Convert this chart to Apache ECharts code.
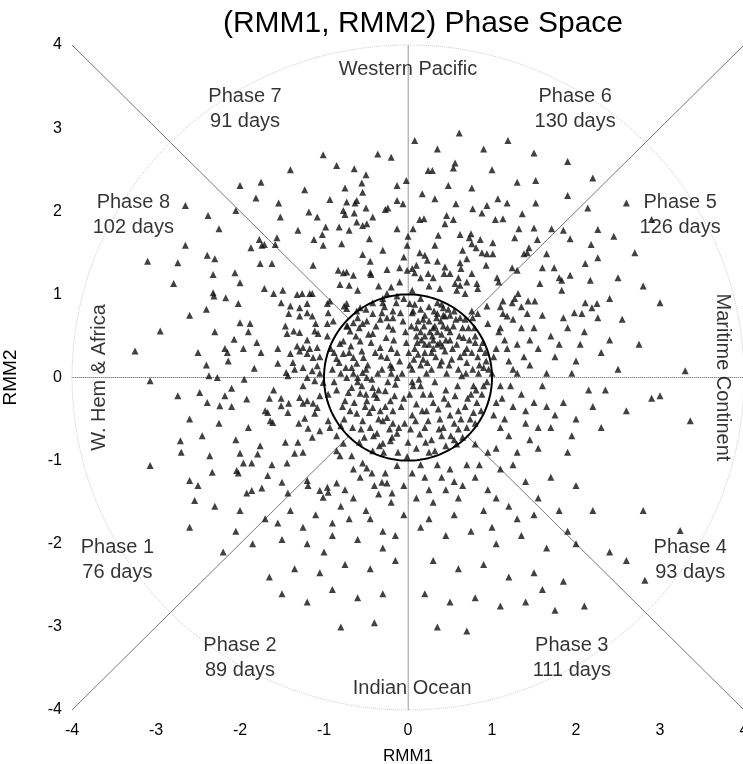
<!DOCTYPE html>
<html>
<head>
<meta charset="utf-8">
<title>(RMM1, RMM2) Phase Space</title>
<script src="https://cdn.jsdelivr.net/npm/echarts@6/dist/echarts.min.js"></script>
<style>
html, body { margin: 0; padding: 0; background: #fff; }
#chart { width: 743px; height: 764px; }
</style>
</head>
<body>
<div id="chart"></div>
<script>
// daily (RMM1, RMM2) values, grouped by area of the plot
var upperLeft = [
    [-1.01, 2.68], [-0.36, 2.69], [-0.64, 2.51], [-0.50, 2.44], [-2.00, 2.31], [-1.23, 2.26], [-0.75, 2.28],
    [-0.55, 2.34], [-0.54, 2.23], [-0.13, 2.31], [-1.81, 2.16], [-1.54, 2.10], [-0.93, 2.14], [-0.73, 2.11],
    [-0.63, 2.10], [-0.61, 2.13], [-0.50, 2.04], [-0.27, 2.02], [-0.24, 2.04], [-0.13, 2.13], [-2.05, 2.01],
    [-1.52, 1.93], [-1.18, 1.99], [-1.08, 1.93], [-0.77, 2.01], [-0.75, 1.96], [-0.64, 1.98], [-0.61, 1.87],
    [-0.42, 1.93], [-0.49, 1.85], [-0.54, 1.83], [-2.25, 1.79], [-1.31, 1.77], [-0.98, 1.81], [-0.82, 1.81],
    [-0.70, 1.77], [-0.13, 1.79], [-1.02, 1.72], [-1.56, 1.68], [-1.77, 1.66], [-1.74, 1.59], [-1.71, 1.60],
    [-1.12, 1.66], [-1.58, 1.60], [-1.01, 1.59], [-0.79, 1.61], [-0.46, 1.67], [-1.87, 1.56], [-0.30, 1.53],
    [-0.54, 1.48], [-2.39, 1.47], [-2.30, 1.43], [-1.76, 1.37], [-1.62, 1.37], [-1.13, 1.35], [-0.83, 1.29],
    [-0.77, 1.26], [-0.73, 1.27], [-0.65, 1.23], [-0.45, 1.26], [-0.44, 1.24], [-2.32, 1.24], [-2.06, 1.26],
    [-2.00, 1.14], [-0.81, 1.12], [-0.70, 1.11], [-0.20, 1.09], [-2.32, 1.02], [-2.31, 0.98], [-2.17, 0.96],
    [-1.71, 1.07], [-1.60, 1.01], [-1.49, 1.05], [-1.32, 1.00], [-1.26, 1.01], [-1.17, 1.01], [-0.96, 0.89],
    [-0.93, 0.92], [-0.76, 0.86], [-0.73, 0.83], [-0.57, 0.84], [-0.42, 0.90], [-0.30, 0.95], [-0.25, 1.01],
    [-0.13, 0.98], [-2.02, 0.89], [-1.51, 0.90], [-1.40, 0.86], [-1.29, 0.84], [-1.20, 0.89], [-1.14, 1.01],
    [-2.40, 0.82], [-1.42, 0.77], [-1.29, 0.74], [-1.20, 0.78], [-1.14, 0.74], [-0.31, 0.78], [-0.18, 0.72],
    [-2.00, 0.66], [-1.88, 0.65], [-1.46, 0.62], [-1.44, 0.53], [-1.36, 0.56], [-1.29, 0.54], [-1.11, 0.56],
    [-1.07, 0.53], [-0.96, 0.65], [-0.96, 0.50], [-0.89, 0.68], [-0.73, 0.62], [-0.65, 0.66], [-0.54, 0.65],
    [-2.07, 0.46], [-1.80, 0.42], [-2.18, 0.35], [-2.15, 0.30], [-1.96, 0.35], [-2.14, 0.20], [-1.32, 0.38],
    [-1.29, 0.32], [-1.25, 0.36], [-1.20, 0.29], [-1.17, 0.35], [-1.13, 0.24], [-1.08, 0.36], [-1.40, 0.29],
    [-1.37, 0.18], [-1.55, 0.17], [-1.45, 0.06], [-1.43, 0.02], [-1.83, 0.11], [-2.37, 0.02], [-2.27, 0.00],
    [-1.25, 0.12], [-1.14, 0.08], [-1.08, 0.14], [-1.05, 0.05],
    [-2.65, 2.07], [-2.38, 1.95], [-2.79, 1.13], [-2.74, 1.38], [-2.65, 1.59], [-2.95, 0.56], [-3.25, 0.32],
    [-3.10, 1.40], [-2.60, 0.75], [-1.75, 0.30], [-1.90, 0.55], [-2.30, 0.55], [-2.50, 0.30], [-2.40, 0.15],
    [-0.85, 2.55], [-0.20, 2.65], [-1.40, 2.50], [-1.75, 2.35],
    [-0.35, 1.10], [-0.25, 1.30], [-0.60, 1.05], [-0.45, 1.40], [-1.05, 0.25], [-1.20, 0.45], [-1.35, 0.10],
    [-1.10, 0.65], [-0.95, 0.78], [-1.55, 0.35]
];
var upperRight = [
    [0.08, 2.85], [0.61, 2.94], [1.19, 2.85], [0.56, 2.58], [0.54, 2.52], [0.24, 2.49], [0.29, 2.49],
    [-0.02, 2.37], [0.48, 2.31], [0.76, 2.28], [1.52, 2.37], [0.17, 2.21], [0.32, 2.15], [0.57, 2.09],
    [1.07, 2.15], [1.18, 2.10], [1.52, 2.10], [1.90, 2.19], [-0.06, 2.09], [0.77, 2.03], [0.88, 1.98],
    [0.94, 2.07], [2.14, 2.04], [0.46, 1.95], [0.54, 1.90], [0.44, 1.85], [0.14, 1.90], [0.19, 1.91],
    [1.04, 1.90], [1.13, 1.91], [1.36, 1.97], [0.06, 1.79], [0.75, 1.73], [0.73, 1.68], [1.32, 1.79],
    [1.50, 1.80], [1.71, 1.79], [1.85, 1.77], [2.26, 1.78], [0.36, 1.71], [0.62, 1.72], [0.86, 1.66],
    [0.76, 1.61], [0.81, 1.56], [1.27, 1.68], [1.54, 1.66], [1.93, 1.67], [0.32, 1.59], [1.01, 1.62],
    [1.44, 1.56], [1.42, 1.50], [2.18, 1.60], [0.65, 1.53], [0.70, 1.43], [0.88, 1.50], [0.94, 1.49],
    [1.01, 1.49], [1.38, 1.49], [1.65, 1.49], [-0.01, 1.59], [0.14, 1.50], [0.20, 1.47], [0.23, 1.41],
    [0.44, 1.33], [0.43, 1.25], [0.62, 1.38], [0.63, 1.31], [0.60, 1.20], [0.93, 1.35], [1.24, 1.32],
    [1.30, 1.29], [1.60, 1.32], [1.74, 1.32], [2.11, 1.37], [2.26, 1.44], [-0.10, 1.32], [-0.01, 1.29],
    [0.05, 1.31], [0.08, 1.26], [0.24, 1.25], [0.30, 1.20], [1.80, 1.20], [1.83, 1.17], [1.93, 1.23],
    [2.17, 1.17], [1.57, 1.13], [1.06, 1.20], [1.08, 1.15], [0.76, 1.25], [0.38, 1.07], [0.56, 1.13],
    [0.62, 1.11], [0.58, 1.05], [0.68, 1.01], [0.82, 1.13], [0.83, 1.07], [0.94, 0.86], [1.13, 0.92],
    [1.24, 0.90], [1.27, 0.95], [1.31, 1.01], [1.43, 0.92], [1.51, 0.92], [1.83, 1.05], [2.11, 0.90],
    [2.25, 0.89], [1.98, 0.78], [2.07, 0.77], [2.19, 0.84], [1.42, 0.77], [1.13, 0.77], [1.18, 0.74],
    [0.76, 0.80], [0.83, 0.77], [0.77, 0.72], [0.42, 0.84], [0.35, 0.77], [0.44, 0.74], [0.02, 0.89],
    [0.06, 0.80], [1.85, 0.72], [2.26, 0.72],
    [2.45, 1.70], [2.70, 1.50], [2.50, 1.20], [2.80, 1.10], [2.40, 0.95], [3.00, 0.90], [2.60, 2.10],
    [2.90, 1.90], [1.90, 2.60], [2.20, 2.40], [1.50, 2.70], [0.35, 2.75], [1.00, 2.50], [1.30, 2.35],
    [0.90, 2.75],
    [-0.10, 1.15], [0.05, 1.05], [0.15, 1.20], [0.25, 1.10], [-0.05, 1.45], [0.10, 1.35], [0.35, 1.40],
    [0.00, 1.70], [0.50, 1.25], [0.70, 1.15], [1.02, 0.25], [1.08, 0.55], [1.18, 0.35], [1.25, 0.70],
    [1.38, 0.25], [1.45, 0.45], [1.10, 0.85], [0.95, 0.65]
];
var centre = [
    [-0.73, 0.00], [-0.67, 0.12], [-0.61, 0.17], [-0.54, 0.06], [-0.49, 0.00], [-0.42, -0.12], [-0.37, -0.24],
    [-0.27, -0.16], [-0.21, -0.28], [-0.18, -0.40], [-0.49, -0.28], [-0.57, -0.19], [-0.67, -0.12], [-0.75, -0.28],
    [-0.69, -0.40], [-0.61, -0.43], [-0.54, -0.52], [-0.45, -0.60], [-0.37, -0.67], [-0.30, -0.79], [-0.21, -0.76],
    [-0.13, -0.67], [-0.18, -0.55], [-0.25, -0.48], [-0.33, -0.40], [-0.42, -0.36], [-0.77, 0.29], [-0.65, 0.24],
    [-0.57, 0.44], [-0.42, 0.53], [-0.33, 0.36], [-0.25, 0.24], [-0.19, 0.12], [-0.13, 0.00], [-0.77, 0.44],
    [-0.69, 0.56], [-0.49, 0.68], [-0.42, 0.77], [-0.25, 0.72], [-0.18, 0.80], [-0.73, 0.89], [-0.61, 0.80],
    [-0.81, 0.41], [-0.85, 0.23],
    [0.10, 0.50], [0.20, 0.30], [0.30, 0.60], [0.40, 0.20], [0.50, 0.45], [0.60, 0.10], [0.70, 0.35],
    [0.15, -0.10], [0.30, -0.30], [0.45, -0.15], [0.60, -0.40], [0.75, -0.20], [0.20, -0.60], [0.40, -0.70],
    [0.55, -0.55], [0.10, -0.85], [0.85, 0.15], [0.90, -0.10], [0.05, 0.10], [0.25, 0.85], [0.50, 0.75],
    [0.65, 0.60], [0.80, 0.50], [0.35, 0.40], [0.12, 0.68], [0.22, -0.40], [0.38, -0.50], [0.70, -0.60],
    [0.05, -0.45], [0.02, -0.20], [0.28, 0.10], [0.48, -0.32], [0.62, 0.25], [0.18, 0.22], [0.42, 0.62],
    [0.78, -0.42], [0.32, -0.88], [0.55, -0.75], [0.92, 0.30], [0.08, 0.35],
    [-0.90, 0.10], [-0.85, -0.15], [-0.80, 0.05], [-0.78, -0.35], [-0.70, 0.30], [-0.66, -0.60], [-0.62, 0.50],
    [-0.60, -0.05], [-0.55, 0.32], [-0.52, -0.72], [-0.48, 0.15], [-0.46, -0.42], [-0.44, 0.42], [-0.40, -0.20],
    [-0.38, 0.62], [-0.36, 0.05], [-0.34, -0.82], [-0.32, 0.26], [-0.30, -0.52], [-0.28, 0.85], [-0.26, 0.48],
    [-0.24, -0.05], [-0.22, -0.62], [-0.20, 0.35], [-0.18, 0.58], [-0.16, -0.22], [-0.14, 0.90], [-0.12, -0.90],
    [-0.10, 0.20], [-0.08, -0.35], [-0.06, 0.68], [-0.04, -0.55], [-0.02, 0.42], [0.00, -0.78], [0.02, 0.15],
    [0.04, 0.62], [0.06, -0.10], [0.08, 0.88], [0.10, -0.32], [0.12, 0.28], [0.14, -0.68], [0.16, 0.45],
    [0.18, -0.20], [0.20, 0.75], [0.22, 0.05], [0.24, -0.52], [0.26, 0.55], [0.28, -0.75], [0.30, 0.35],
    [0.32, -0.05], [0.34, 0.72], [0.36, -0.38], [0.38, 0.15], [0.40, 0.52], [0.42, -0.60], [0.44, 0.32],
    [0.46, 0.05], [0.48, 0.82], [0.50, -0.45], [0.52, 0.22], [0.54, 0.62], [0.56, -0.22], [0.58, 0.40],
    [0.60, -0.62], [0.62, 0.72], [0.64, 0.02], [0.66, 0.48], [0.68, -0.35], [0.70, 0.18], [0.72, 0.60],
    [0.74, -0.50], [0.76, 0.30], [0.78, -0.10], [0.80, 0.42], [0.82, -0.30], [0.84, 0.05], [0.86, 0.35],
    [0.88, -0.20], [0.90, 0.12], [0.94, -0.05], [-0.95, -0.20], [-0.88, 0.30], [-0.72, 0.62], [-0.58, -0.78],
    [-0.42, -0.88], [0.15, 0.95], [0.35, 0.90], [0.55, 0.80], [0.68, 0.70], [-0.92, 0.35], [-0.60, 0.72],
    [0.25, -0.90], [0.45, -0.82], [0.65, -0.72], [0.80, -0.55], [0.30, 0.45], [0.25, 0.40], [0.35, 0.55],
    [0.20, 0.50], [0.10, 0.60], [0.45, 0.45], [-0.60, 0.00], [-0.55, -0.10], [-0.65, 0.05], [-0.50, 0.10],
    [0.15, 0.15], [0.05, -0.05],
    [-0.88, -0.05], [-0.82, 0.18], [-0.76, -0.50], [-0.74, 0.12], [-0.71, -0.18], [-0.68, 0.38], [-0.64, -0.30],
    [-0.58, 0.60], [-0.56, -0.62], [-0.53, 0.24], [-0.51, -0.35], [-0.47, 0.52], [-0.43, -0.02], [-0.41, -0.70],
    [-0.39, 0.30], [-0.35, -0.50], [-0.33, 0.70], [-0.31, 0.10], [-0.29, -0.90], [-0.27, -0.35], [-0.23, 0.62],
    [-0.21, 0.15], [-0.19, -0.72], [-0.17, 0.45], [-0.15, -0.08], [-0.13, 0.30], [-0.11, -0.60], [-0.09, 0.78],
    [-0.07, 0.05], [-0.05, -0.25], [-0.03, 0.55], [-0.01, -0.95], [0.01, 0.30], [0.03, -0.62], [0.05, 0.78],
    [0.07, 0.22], [0.09, -0.52], [0.11, 0.42], [0.13, -0.02], [0.15, 0.82], [0.17, -0.40], [0.19, 0.62],
    [0.21, -0.78], [0.23, 0.18], [0.25, 0.68], [0.27, -0.20], [0.29, 0.50], [0.31, 0.80], [0.33, 0.25],
    [0.37, -0.62], [0.39, 0.68], [0.41, 0.38], [0.43, -0.25], [0.47, 0.60], [0.49, 0.15], [0.51, -0.70],
    [0.53, 0.35], [0.57, 0.70], [0.59, -0.10], [0.61, 0.50], [0.63, -0.50], [0.67, 0.30], [0.69, 0.05],
    [0.71, -0.25], [0.73, 0.45], [0.77, 0.10], [0.79, 0.60], [0.81, -0.15], [0.83, 0.25], [0.87, -0.40],
    [0.89, 0.42], [0.93, 0.20], [0.96, 0.10], [-0.05, 0.95], [0.40, 0.88], [-0.50, 0.82], [-0.80, -0.58],
    [-0.30, 0.90], [0.58, -0.80], [0.20, 0.40], [0.28, 0.30], [0.38, 0.42], [0.32, 0.62], [0.15, 0.55],
    [0.50, 0.55], [0.18, 0.70], [0.42, 0.75], [-0.20, 0.05], [-0.35, -0.15], [-0.50, -0.20]
];
var lowerLeft = [
    [-1.01, -0.06], [-2.48, -0.18], [-2.10, -0.13], [-2.18, -0.22], [-2.39, -0.30], [-2.24, -0.34], [-2.10, -0.35],
    [-1.92, -0.26], [-1.51, -0.25], [-1.51, -0.34], [-1.42, -0.31], [-1.29, -0.24], [-1.25, -0.31], [-1.20, -0.28],
    [-1.13, -0.31], [-1.08, -0.36], [-1.11, -0.43], [-1.43, -0.42], [-1.70, -0.40], [-1.67, -0.42], [-1.64, -0.52],
    [-1.61, -0.54], [-2.25, -0.55], [-1.23, -0.49], [-1.19, -0.61], [-0.95, -0.52], [-0.93, -0.60], [-1.05, -0.64],
    [-1.14, -0.72], [-0.85, -0.70], [-1.46, -0.78], [-1.31, -0.78], [-1.25, -0.90], [-1.76, -0.82], [-1.79, -0.92],
    [-2.00, -0.91], [-2.36, -0.94], [-1.96, -1.03], [-1.86, -1.03], [-1.62, -1.05], [-1.44, -1.03], [-1.35, -0.91],
    [-2.33, -1.14], [-2.04, -1.12], [-2.02, -1.15], [-1.67, -1.18], [-1.50, -1.26], [-1.20, -1.24], [-1.19, -1.30],
    [-1.05, -1.36], [-0.96, -1.32], [-0.95, -1.38], [-0.85, -1.27], [-1.92, -1.39], [-1.86, -1.36], [-1.74, -1.33],
    [-1.43, -1.39], [-1.01, -1.44], [-0.85, -0.88], [-0.81, -0.94], [-0.77, -0.79], [-0.67, -0.94], [-0.54, -1.03],
    [-0.49, -1.09], [-0.43, -1.15], [-0.57, -1.20], [-0.27, -1.15], [-0.13, -1.06], [-0.31, -1.26], [-0.25, -1.27],
    [-0.19, -1.39], [-1.95, -0.02], [-1.20, 0.00], [-1.11, -0.04],
    [-0.20, -1.50], [-0.50, -1.60], [-0.80, -1.55], [-1.10, -1.65], [-1.40, -1.60], [-1.70, -1.70], [-2.00, -1.60],
    [-2.30, -1.55], [-0.30, -1.85], [-0.60, -1.95], [-0.90, -1.90], [-1.20, -2.00], [-1.50, -1.95], [-1.85, -2.00],
    [-2.20, -2.10], [-0.15, -2.20], [-0.45, -2.30], [-0.75, -2.25], [-1.05, -2.35], [-1.35, -2.30], [-1.65, -2.40],
    [-0.30, -2.60], [-0.60, -2.65], [-0.90, -2.55], [-1.20, -2.70], [-1.50, -2.60], [-0.40, -2.95], [-0.80, -3.00],
    [-2.50, -1.30], [-2.70, -0.90], [-2.60, -1.80], [-3.07, -0.04], [-2.74, -0.22], [-2.71, -0.76], [-3.07, -1.06],
    [-2.60, -1.24], [-2.54, -1.48], [-1.60, -0.15], [-2.60, -0.50], [-2.45, -0.70], [-1.90, -0.60], [-2.05, -0.75],
    [-0.05, -1.65], [-0.35, -1.40], [-0.65, -1.45], [-0.90, -1.75], [-1.25, -1.80], [-0.45, -1.70], [-0.15, -1.90],
    [-0.70, -1.70], [-1.55, -1.75], [-2.05, -1.85], [-1.00, -2.10], [-0.30, -2.05],
    [-0.05, -1.30], [-0.40, -1.30], [-0.65, -1.10], [-0.75, -1.35], [-1.25, -0.10], [-1.05, -0.22], [-1.30, -0.55],
    [-1.65, -0.25]
];
var lowerRight = [
    [1.10, 0.60], [1.30, 0.40], [1.50, 0.60], [1.70, 0.50], [1.90, 0.60], [2.10, 0.55], [1.20, 0.20],
    [1.45, 0.15], [1.75, 0.25], [2.00, 0.20], [2.30, 0.30], [1.10, -0.10], [1.35, -0.20], [1.60, -0.10],
    [1.85, -0.30], [2.15, -0.15], [2.50, 0.10], [1.15, -0.50], [1.40, -0.55], [1.70, -0.60], [2.00, -0.50],
    [2.30, -0.60], [1.05, -0.85], [1.30, -0.90], [1.55, -0.85], [1.90, -0.90], [2.60, -0.40], [2.75, 0.40],
    [2.90, -0.25], [3.00, -0.22], [3.30, 0.08], [3.36, -0.52], [2.55, 0.70], [3.24, -1.84], [2.82, -2.44],
    [0.20, -1.20], [0.50, -1.10], [0.80, -1.20], [1.10, -1.10], [1.40, -1.25], [1.70, -1.20], [2.00, -1.30],
    [0.30, -1.50], [0.60, -1.45], [0.90, -1.60], [1.20, -1.55], [1.50, -1.65], [1.80, -1.60], [2.20, -1.60],
    [0.15, -1.80], [0.45, -1.90], [0.75, -1.85], [1.05, -2.00], [1.35, -1.90], [1.65, -2.05], [2.00, -2.00],
    [2.40, -2.10], [0.30, -2.20], [0.60, -2.30], [0.90, -2.25], [1.20, -2.40], [1.50, -2.35], [1.85, -2.45],
    [0.20, -2.60], [0.50, -2.70], [0.80, -2.65], [1.10, -2.75], [1.40, -2.70], [1.75, -2.80], [2.10, -2.75],
    [0.35, -3.00], [0.70, -3.05], [1.60, -2.55], [2.60, -2.20], [2.80, -1.60],
    [1.05, 0.35], [1.15, 0.45], [1.25, 0.10], [1.35, 0.60], [1.55, 0.35], [1.65, 0.05], [1.80, 0.40],
    [1.95, 0.05], [1.05, -0.30], [1.25, -0.35], [1.50, -0.30], [1.75, -0.45], [1.95, -0.70], [1.20, -0.70],
    [1.45, -0.75], [1.65, -0.35], [2.20, -0.35], [2.40, 0.45], [2.05, 0.40], [1.00, 0.05], [1.10, -0.60],
    [1.60, 0.75], [1.35, 0.85], [2.35, -0.15], [0.05, -1.15], [0.35, -1.05], [0.65, -1.30], [0.95, -1.35],
    [1.25, -1.05], [0.10, -1.45], [0.45, -1.35], [0.85, -1.05], [1.05, -1.45], [1.55, -1.45], [0.25, -1.70],
    [0.55, -1.65], [1.00, -1.80], [1.30, -1.70], [1.90, -1.85],
    [1.02, -0.45], [1.12, -0.25], [1.22, -0.10], [1.30, 0.05], [1.40, -0.40], [1.55, -0.60], [0.15, -1.05],
    [0.40, -1.20], [0.70, -1.05], [0.55, -1.25], [0.95, -0.90], [0.25, -1.35], [0.80, -0.80]
];

var phaseDays = [76, 89, 111, 93, 126, 130, 91, 102];   // phase 1..8
var regionNames = ['W. Hem & Africa', 'Indian Ocean', 'Maritime Continent', 'Western Pacific'];
var axisTicks = [-4, -3, -2, -1, 0, 1, 2, 3, 4];
var unitRadius = 1;
var outerRadius = 4;

var font = "'Liberation Sans', Helvetica, Arial, sans-serif";

function circle(r) {
    var pts = [];
    for (var a = 0; a <= 360; a += 2) {
        var t = a * Math.PI / 180;
        pts.push([r * Math.cos(t), r * Math.sin(t)]);
    }
    return pts;
}

// spokes from the unit circle to the edge of the box
function spoke(deg) {
    var t = deg * Math.PI / 180;
    var c = Math.cos(t), s = Math.sin(t);
    var k = outerRadius / Math.max(Math.abs(c), Math.abs(s));
    return [[unitRadius * c, unitRadius * s], [k * c, k * s]];
}

function lineSeries(data, style, z) {
    return {
        type: 'line', data: data, symbol: 'none', silent: true, z: z || 1,
        lineStyle: style, animation: false
    };
}

// where each phase label sits (data coordinates), in phase order 1..8
var phaseSpots = [[-3.46, -2.2], [-2.0, -3.38], [1.95, -3.38], [3.36, -2.2],
                  [3.24, 1.95], [1.99, 3.23], [-1.94, 3.23], [-3.27, 1.95]];
var labelData = phaseDays.map(function (d, i) {
    return { value: phaseSpots[i], name: 'Phase ' + (i + 1) + '\n' + d + ' days' };
});
labelData.push({ value: [-3.67, 0], name: regionNames[0], label: { rotate: 90 } });
labelData.push({ value: [0.05, -3.74], name: regionNames[1] });
labelData.push({ value: [3.74, 0], name: regionNames[2], label: { rotate: -90 } });
labelData.push({ value: [0, 3.71], name: regionNames[3] });

var series = [];
[45, 135, 225, 315].forEach(function (d) {
    series.push(lineSeries(spoke(d), { color: '#777', width: 1 }));
});
[0, 90, 180, 270].forEach(function (d) {
    series.push(lineSeries(spoke(d), { color: '#888', width: 1, type: 'dotted' }));
});
series.push(lineSeries(circle(outerRadius), { color: '#ccc', width: 1, type: 'dotted' }));
[upperLeft, upperRight, centre, lowerLeft, lowerRight].forEach(function (pts) {
    series.push({
        type: 'scatter', data: pts, symbol: 'triangle', symbolSize: 7, z: 3,
        itemStyle: { color: '#111' }, animation: false
    });
});
series.push(lineSeries(circle(unitRadius), { color: '#000', width: 2 }, 4));
series.push({
    type: 'scatter', data: labelData, symbolSize: 0, z: 5, silent: true, animation: false,
    label: {
        show: true, position: 'inside', formatter: '{b}',
        color: '#000', textBorderWidth: 0, fontSize: 20, lineHeight: 25, fontFamily: font
    }
});

var chart = echarts.init(document.getElementById('chart'));
chart.setOption({
    backgroundColor: '#fff',
    animation: false,
    title: {
        text: '(RMM1, RMM2) Phase Space', left: 418, top: 4, textAlign: 'center',
        textStyle: { fontSize: 30, fontWeight: 'normal', color: '#000', fontFamily: font }
    },
    grid: { left: 72, top: 45, width: 672, height: 665, outerBoundsMode: 'none' },
    xAxis: {
        type: 'value', min: axisTicks[0], max: axisTicks[axisTicks.length - 1], interval: 1,
        name: 'RMM1', nameLocation: 'middle', nameGap: 38,
        nameTextStyle: { color: '#000', fontSize: 17, fontFamily: font },
        axisLine: { show: true, lineStyle: { color: '#bbb', type: 'dotted' } },
        axisTick: { show: false }, splitLine: { show: false },
        axisLabel: { color: '#000', fontSize: 16, margin: 13, fontFamily: font, showMaxLabel: true }
    },
    yAxis: {
        type: 'value', min: axisTicks[0], max: axisTicks[axisTicks.length - 1], interval: 1,
        name: 'RMM2', nameLocation: 'middle', nameGap: 52, nameRotate: 90,
        nameTextStyle: { color: '#000', fontSize: 19, fontFamily: font },
        axisLine: { show: true, lineStyle: { color: '#bbb', type: 'dotted' } },
        axisTick: { show: false }, splitLine: { show: false },
        axisLabel: { color: '#000', fontSize: 16, margin: 10, fontFamily: font }
    },
    series: series
});
</script>
</body>
</html>
